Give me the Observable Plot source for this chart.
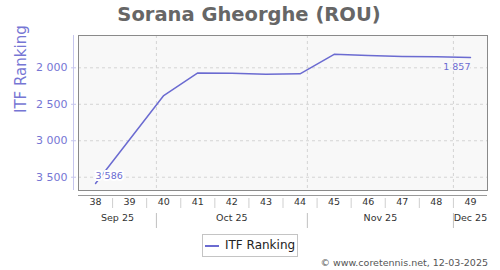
<!DOCTYPE html>
<html>
<head>
<meta charset="utf-8">
<script src="https://cdn.jsdelivr.net/npm/d3@7"></script>
<script src="https://cdn.jsdelivr.net/npm/@observablehq/plot@0.6"></script>
<style>
  body { margin: 0; background: #fff; font-family: "DejaVu Sans", sans-serif; }
  #wrap { position: relative; width: 500px; height: 270px; overflow: hidden; }
  #title { position: absolute; left: 0; top: 3px; width: 498px; text-align: center; font-size: 19.5px; font-weight: bold; color: #666; white-space: nowrap; }
  #chart { position: absolute; left: 0; top: 28px; }
  #legend { position: absolute; left: 202px; top: 234px; width: 94px; height: 21px; border: 1px solid #c4c4c4; background: #fff; }
  #legend .sw { position: absolute; left: 2px; top: 10px; width: 14px; height: 0; border-top: 2px solid #6b6bd1; }
  #legend .lt { position: absolute; left: 22px; top: 3px; font-size: 12px; color: #222; white-space: nowrap; }
  #caption { position: absolute; right: 12px; top: 257px; font-size: 9.5px; color: #555; white-space: nowrap; }
</style>
</head>
<body>
<div id="wrap">
  <div id="title">Sorana Gheorghe (ROU)</div>
  <div id="chart"></div>
  <div id="legend"><span class="sw"></span><span class="lt">ITF Ranking</span></div>
  <div id="caption">© www.coretennis.net, 12-03-2025</div>
</div>
<script>
// ---- data ----
const weeks = [38, 40, 41, 42, 43, 44, 45, 46, 47, 48, 49];
const ranking = [3586, 2380, 2070, 2073, 2087, 2083, 1815, 1831, 1845, 1850, 1857];
const weekTicks = [38, 39, 40, 41, 42, 43, 44, 45, 46, 47, 48, 49];
const monthLabels = ["Sep 25", "Oct 25", "Nov 25", "Dec 25"];
const monthStarts = ["2025-09-01", "2025-10-01", "2025-11-01", "2025-12-01"];
const yTicks = [2000, 2500, 3000, 3500];
const yDomain = [1557, 3682];

// ---- helpers ----
const DAY = 864e5;
const week1Monday = Date.UTC(2024, 11, 30); // ISO week 1 of 2025
const weekStart = w => new Date(week1Monday + (w - 1) * 7 * DAY);
const weekMid = w => new Date(week1Monday + ((w - 1) * 7 + 3.5) * DAY);
const x0 = weekStart(weekTicks[0]);
const x1 = weekStart(weekTicks[weekTicks.length - 1] + 1);
const fmt = d3.formatLocale({thousands: " ", grouping: [3], decimal: ".", currency: ["", ""]}).format(",d");

const data = weeks.map((w, i) => ({date: weekMid(w), week: w, rank: ranking[i]}));
const weekBounds = weekTicks.slice(1).map(weekStart);
const mStarts = monthStarts.map(s => new Date(s + "T00:00:00Z"));
const monthBounds = mStarts.filter(d => d > x0 && d < x1);
const monthSeg = monthLabels.map((label, i) => {
  const s = Math.max(+mStarts[i], +x0);
  const e = Math.min(+d3.utcMonth.offset(mStarts[i], 1), +x1);
  return {label, mid: new Date((s + e) / 2)};
});

const lineColor = "#6b6bd1";
const axisColor = "#7676d4";

const chart = Plot.plot({
  width: 500,
  height: 205,
  marginTop: 7,
  marginBottom: 43,
  marginLeft: 78,
  marginRight: 13,
  style: {fontFamily: "DejaVu Sans", background: "transparent", overflow: "visible"},
  x: {type: "utc", domain: [x0, x1], axis: null},
  y: {domain: yDomain, reverse: true, axis: null},
  marks: [
    Plot.frame({fill: "#f8f8f8", stroke: null}),
    Plot.gridY(yTicks, {stroke: "#d4d4d4", strokeOpacity: 1, strokeDasharray: "3,3"}),
    Plot.gridX(monthBounds, {stroke: "#d4d4d4", strokeOpacity: 1, strokeDasharray: "3,3"}),
    Plot.frame({stroke: "#8a8a8a"}),
    // y axis line, ticks, labels, title
    Plot.ruleX([x0], {dx: -5, stroke: "#c6c6ee"}),
    Plot.axisY(yTicks, {anchor: "left", tickSize: 5, tickPadding: 4, dx: -2, tickFormat: fmt,
      fill: axisColor, stroke: "#c6c6ee", fontSize: 11, label: null}),
    Plot.text(["ITF Ranking"], {frameAnchor: "left", rotate: -90, dx: -57, fontSize: 15, fill: axisColor}),
    // x axis line, week separators and labels
    Plot.ruleY([yDomain[1]], {dy: 5, stroke: "#999"}),
    Plot.ruleX(weekBounds, {insetTop: 163, insetBottom: -18, stroke: "#cfcfcf"}),
    Plot.text(weekTicks, {x: weekMid, text: d => String(d), frameAnchor: "bottom", dy: 14.7, fontSize: 9.5, fill: "#333"}),
    Plot.ruleX(monthBounds, {insetTop: 178, insetBottom: -38, stroke: "#c0c0c0"}),
    Plot.text(monthSeg, {x: "mid", text: "label", frameAnchor: "bottom", dy: 30, fontSize: 9.5, fill: "#333"}),
    // series
    Plot.line(data, {x: "date", y: "rank", stroke: lineColor, strokeWidth: 1.5}),
    Plot.text([data[0]], {x: "date", y: "rank", text: d => fmt(d.rank), textAnchor: "start", dy: -7.5,
      fontSize: 9.5, fill: lineColor, stroke: "white", strokeWidth: 4}),
    Plot.text([data[data.length - 1]], {x: "date", y: "rank", text: d => fmt(d.rank), textAnchor: "end", dy: 9.5,
      fontSize: 9.5, fill: lineColor, stroke: "#f8f8f8", strokeWidth: 3})
  ]
});
document.getElementById("chart").appendChild(chart);
</script>
</body>
</html>
